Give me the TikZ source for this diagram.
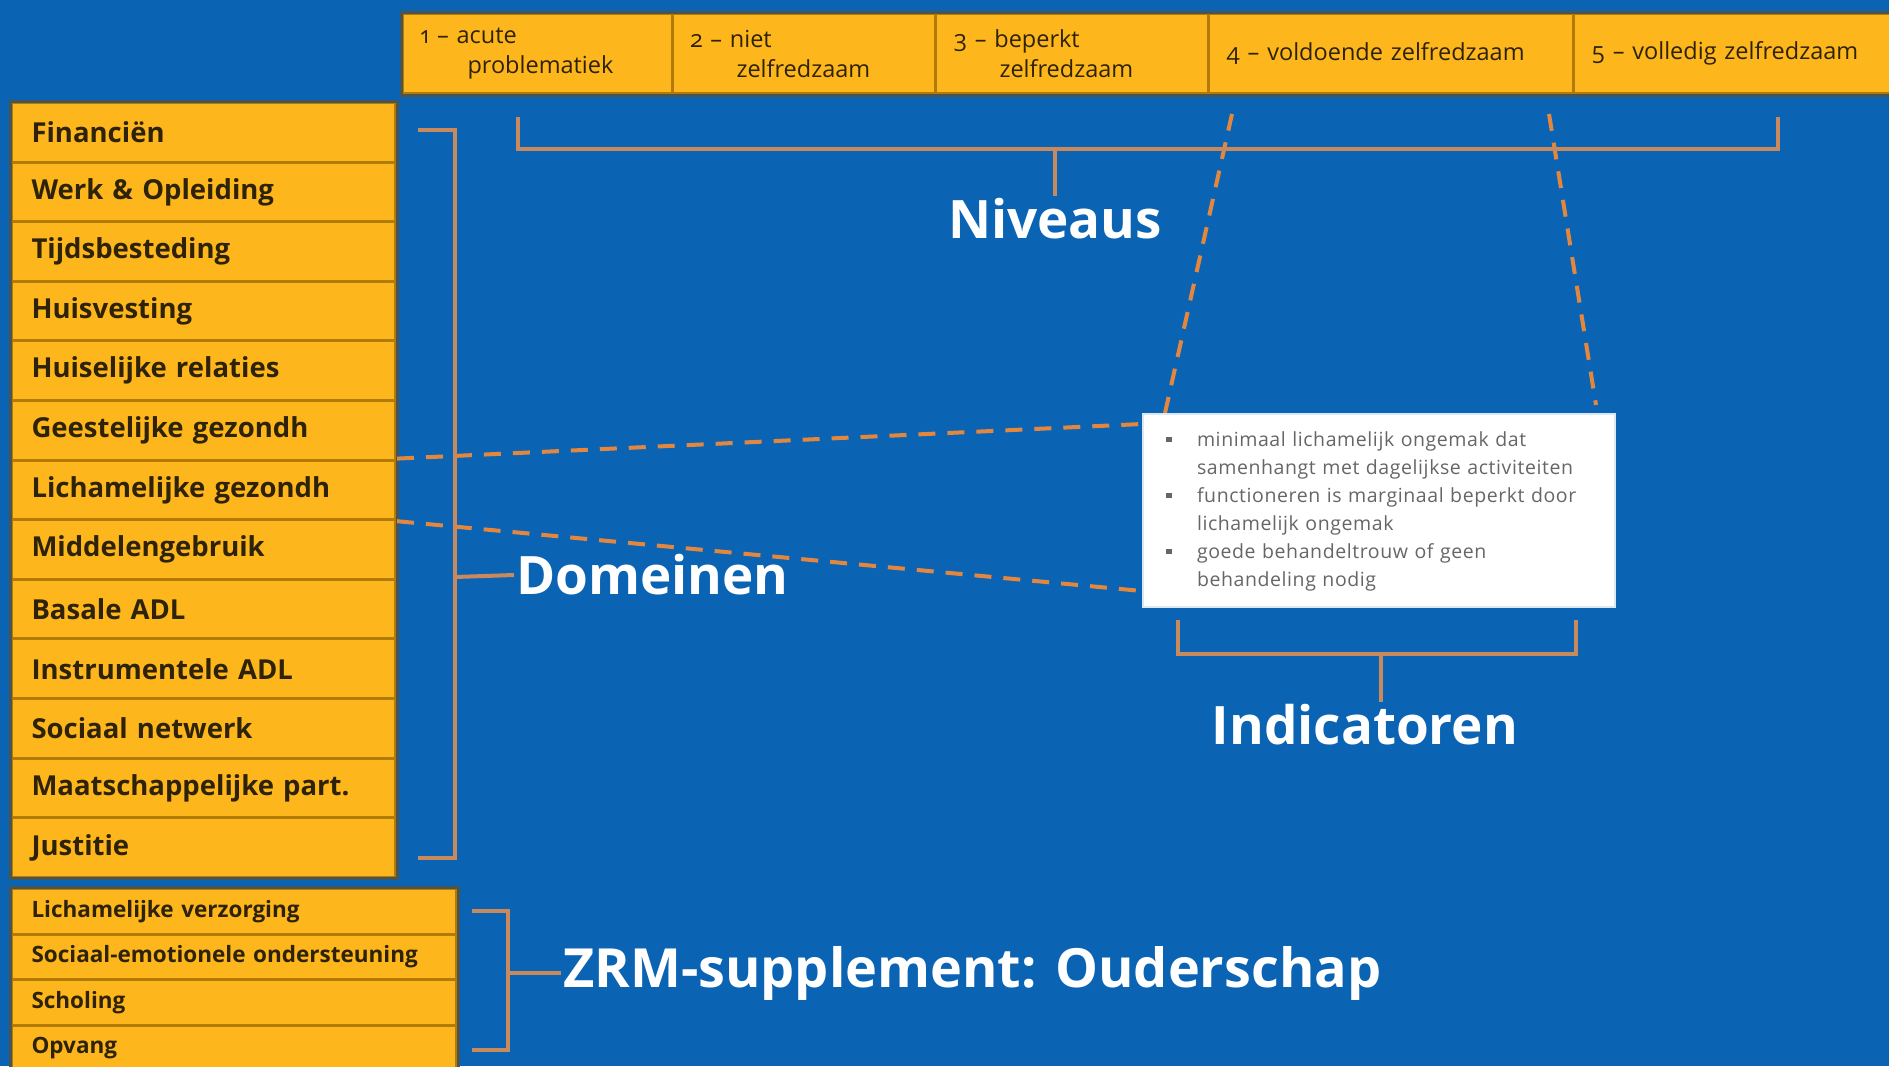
\documentclass[tikz,border=0pt]{standalone}
\usepackage{fontspec}
\setmainfont{Open Sans}
\newfontfamily\kopfont[Numbers=OldStyle]{Open Sans}
\newfontfamily\kleinfont[LetterSpace=3]{Open Sans}
\usetikzlibrary{positioning,calc}
\definecolor{zrmblauw}{HTML}{0B63B4}
\definecolor{zrmgeel}{HTML}{FDB71C}
\definecolor{zrmrand}{HTML}{B27A06}
\definecolor{zrmdonker}{HTML}{4A5450}
\definecolor{zrmoranje}{HTML}{E3873E}
\definecolor{zrmhaak}{HTML}{C88A5C}
\definecolor{zrmtekst}{HTML}{2E2208}
\definecolor{zrmgrijs}{HTML}{666666}
\newcommand{\blokje}{\raisebox{4pt}{\rule{6pt}{5pt}}}

\begin{document}
\begin{tikzpicture}[x=1pt,y=-1pt,
    niveau/.style={draw=zrmrand,line width=3pt,fill=zrmgeel,anchor=north west,
        minimum height=80pt,inner xsep=18pt,inner ysep=0pt,align=left,
        text=zrmtekst,font=\kopfont\fontsize{23.5}{30}\selectfont},
    domein/.style={draw=zrmrand,line width=3pt,fill=zrmgeel,anchor=north west,
        minimum height=59.6pt,text width=344pt,inner xsep=20pt,inner ysep=0pt,
        align=left,text=zrmtekst,font=\bfseries\fontsize{27.5}{30}\selectfont},
    supplement/.style={draw=zrmrand,line width=3pt,fill=zrmgeel,anchor=north west,
        minimum height=45.5pt,text width=405pt,inner xsep=20pt,inner ysep=0pt,
        align=left,text=zrmtekst,font=\bfseries\fontsize{22.5}{24}\selectfont},
    titel/.style={text=white,inner sep=2pt,font=\bfseries\fontsize{53}{60}\selectfont},
    haak/.style={draw=zrmhaak,line width=4pt},
    streep/.style={draw=zrmoranje,line width=4pt,dash pattern=on 17pt off 12pt}]
    \useasboundingbox (0,0) rectangle (1889,1066);
    \fill [zrmblauw] (0,0) rectangle (1889,1066);
    % niveaus bovenaan
    \node [niveau,text width=234pt] (h1) at (401,12) {1 – acute\\\hspace*{47pt}problematiek};
    \node [niveau,text width=227pt] (h2) at (671,12) {2 – niet\\\hspace*{46pt}zelfredzaam};
    \node [niveau,text width=237pt] (h3) at (934,12) {3 – beperkt\\\hspace*{46pt}zelfredzaam};
    \node [niveau,text width=329pt] (h4) at (1207,12) {4 – voldoende zelfredzaam};
    \node [niveau,text width=330pt] (h5) at (1572,12) {5 – volledig zelfredzaam};
    \draw [zrmdonker,line width=3pt] (h1.north west) rectangle (h5.south east);
    % domeinen links
    \foreach \n/\t in {1/Financiën,2/Werk \& Opleiding,3/Tijdsbesteding,4/Huisvesting,
        5/Huiselijke relaties,6/Geestelijke gezondh,7/Lichamelijke gezondh,
        8/Middelengebruik,9/Basale ADL,10/Instrumentele ADL,11/Sociaal netwerk,
        12/Maatschappelijke part.,13/Justitie}
        \node [domein] (d\n) at (10,{101+(\n-1)*59.6}) {\t};
    \draw [zrmdonker,line width=3pt] (d1.north west) rectangle (d13.south east);
    % supplement
    \foreach \n/\t in {1/Lichamelijke verzorging,2/Sociaal-emotionele ondersteuning,
        3/Scholing,4/Opvang}
        \node [supplement] (s\n) at (10,{887+(\n-1)*45.5}) {\t};
    \draw [zrmdonker,line width=3pt] (s1.north west) rectangle (s4.south east);
    % titels
    \node [titel] (niv) at (1055,219) {Niveaus};
    \node [titel,anchor=west] (dom) at (514,575) {Domeinen};
    \node [titel] (ind) at (1365,725) {Indicatoren};
    \node [titel,anchor=west,font=\bfseries\fontsize{54}{60}\selectfont] (zrm) at (561,973) {ZRM-supplement: Ouderschap};
    % uitvergroting
    \draw [streep] (d7.north east) -- (1142,424);
    \draw [streep] (d7.south east) -- (1142,591);
    \draw [streep] ($(h4.south west)+(25,19)$) -- (1165,413);
    \draw [streep] ($(h4.south east)+(-26,19)$) -- (1596,405);
    \node [fill=white,draw=white!85!zrmblauw,line width=2pt,anchor=north west,
        minimum width=472pt,minimum height=193pt,inner xsep=23pt,inner ysep=0pt,
        text width=426pt,align=left,text=zrmgrijs,font=\kleinfont\fontsize{19.5}{28}\selectfont]
        (box) at (1142,413) {%
        \begin{tabular}{@{}p{20pt}@{\hspace{11pt}}l@{}}
        \blokje & minimaal lichamelijk ongemak dat\\
                & samenhangt met dagelijkse activiteiten\\
        \blokje & functioneren is marginaal beperkt door\\
                & lichamelijk ongemak\\
        \blokje & goede behandeltrouw of geen\\
                & behandeling nodig
        \end{tabular}};
    % haken
    \draw [haak] (518,117) -- (518,149) -- (1778,149) -- (1778,117);
    \coordinate (nivtik) at (1055,149);
    \draw [haak] (nivtik) -- (niv.north -| nivtik);
    \draw [haak] (418,130) -- (455,130) -- (455,858) -- (418,858);
    \coordinate (domtik) at (455,577);
    \draw [haak] (domtik) -- (dom.west);
    \draw [haak] (1178,620) -- (1178,654) -- (1576,654) -- (1576,620);
    \coordinate (indtik) at (1381,654);
    \draw [haak] (indtik) -- (ind.north -| indtik);
    \draw [haak] (472,911) -- (508,911) -- (508,1050) -- (472,1050);
    \coordinate (zrmtik) at (508,973);
    \draw [haak] (zrmtik) -- (zrm.west);
\end{tikzpicture}
\end{document}
